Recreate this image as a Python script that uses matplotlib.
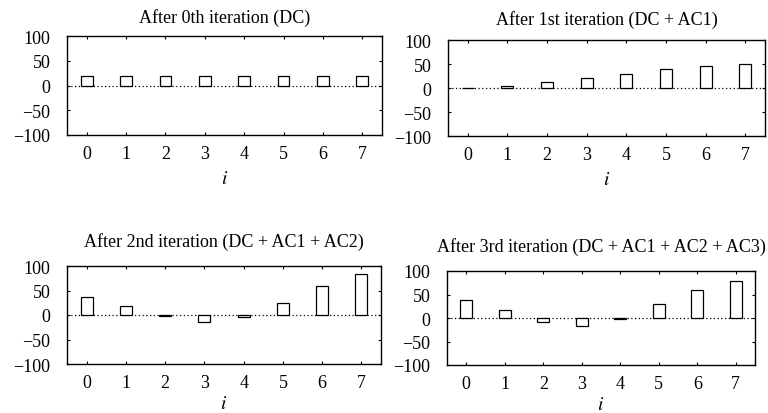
import matplotlib
matplotlib.use("Agg")
import matplotlib.pyplot as plt
import matplotlib.transforms as mtransforms

plt.rcParams['font.family'] = ['Liberation Serif', 'DejaVu Serif']
plt.rcParams['mathtext.fontset'] = 'stix'

idx = [0, 1, 2, 3, 4, 5, 6, 7]
titles = [
    "After 0th iteration (DC)",
    "After 1st iteration (DC + AC1)",
    "After 2nd iteration (DC + AC1 + AC2)",
    "After 3rd iteration (DC + AC1 + AC2 + AC3)",
]
iter0 = [20, 20, 20, 20, 20, 20, 20, 20]
iter1 = [0.7, 3.5, 12, 20, 30, 39, 46, 49]
iter2 = [36, 18, -3, -15, -5, 24, 59, 83]
iter3 = [39, 18, -9, -18, -2, 29, 60, 79]
series = [iter0, iter1, iter2, iter3]
yticks = [-100, -50, 0, 50, 100]

W, H = 768, 414
fig = plt.figure(figsize=(W / 100, H / 100), dpi=100)

# (left, right, top, bottom) in pixels
boxes = [
    (67, 382, 37, 136),
    (448, 765, 41, 137),
    (67, 381, 267, 365),
    (447, 755, 272, 366),
]
title_off = [19, 21, 25, 25]
label_pad = [6, 6, 3, 3]

fs = 13
for k, (l, r, t, b) in enumerate(boxes):
    ax = fig.add_axes([l / W, 1 - b / H, (r - l) / W, (b - t) / H])
    ax.bar(idx, series[k], width=0.3, facecolor='white', edgecolor='black',
           linewidth=0.9, zorder=3)
    ax.axhline(0, color='black', linestyle=(0, (1, 2)), linewidth=0.9, zorder=2)
    ax.set_xlim(-0.5, 7.5)
    ax.set_ylim(-100, 100)
    ax.set_xticks(idx)
    ax.set_yticks(yticks)
    ax.set_yticklabels([str(v).replace('-', '\u2212') for v in yticks])
    ax.tick_params(direction='in', length=2.5, width=0.8, top=True, right=True,
                   labelsize=fs)
    ax.tick_params(axis='y', pad=12)
    ax.tick_params(axis='x', pad=7)
    for s in ax.spines.values():
        s.set_linewidth(1.0)
    ax.set_xlabel('$i$', fontsize=fs + 1, labelpad=label_pad[k])
    tr = mtransforms.offset_copy(ax.transAxes, fig=fig, x=0, y=title_off[k], units='dots')
    ax.text(0.5, 1, titles[k], transform=tr, ha='center', va='center', fontsize=fs)

fig.savefig('out.png', dpi=100)
